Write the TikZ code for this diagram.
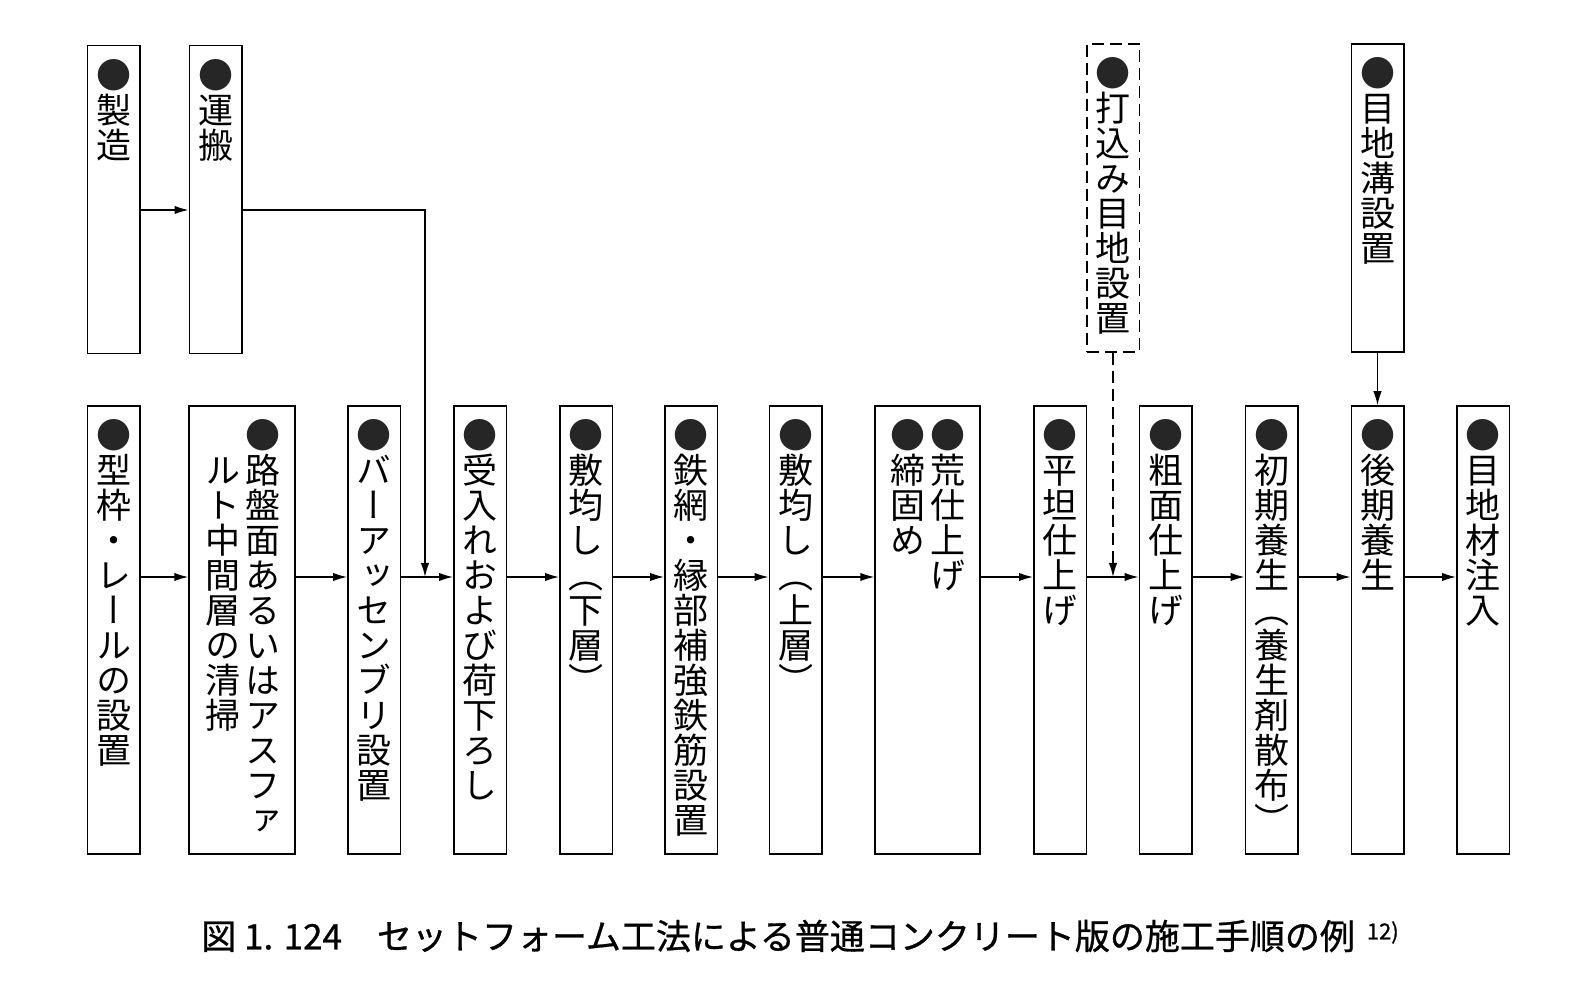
\documentclass[tikz,border=0pt]{standalone}
\usepackage{fontspec}
\usepackage{graphicx}
\usetikzlibrary{arrows.meta,calc}
\newfontfamily\jp[FakeBold=0.8]{Noto Sans CJK JP}
\newfontfamily\jpv[RawFeature=+vert]{Noto Sans CJK JP}
\newcommand\vfont{\jpv\fontsize{17.5}{17.5}\selectfont\lineskiplimit=-100pt\relax}
\newcommand\bul{\textcolor{black!85}{●}}
\newcommand\fr{\rule{0pt}{16pt}}
\begin{document}
\begin{tikzpicture}[x=0.5pt,y=-0.5pt,
  box/.style={draw, line width=0.75pt, minimum width=26.25pt, inner sep=0pt},
  lowbox/.style={box, minimum height=224pt},
  upbox/.style={box, minimum height=154pt},
  col/.style={anchor=north, inner sep=0pt, align=center, font=\vfont},
  arr/.style={line width=0.65pt, -{Latex[length=7pt,width=4.2pt]}},
]
\useasboundingbox[fill=white] (0,0) rectangle (1581,1004);
% upper boxes
\node[upbox] (u1) at (113.5,199.5) {};
\node[upbox] (u2) at (215.5,199.5) {};
\node[upbox, dashed, dash pattern=on 6pt off 3pt] (u3) at (1113,198) {};
\node[upbox] (u4) at (1377.5,198) {};
% lower boxes
\node[lowbox] (f1) at (113.5,630) {};
\node[lowbox, minimum width=53pt] (f2) at (242,630) {};
\node[lowbox] (f3) at (374,630) {};
\node[lowbox] (f4) at (480,630) {};
\node[lowbox] (f5) at (586,630) {};
\node[lowbox] (f6) at (691,630) {};
\node[lowbox] (f7) at (795.5,630) {};
\node[lowbox, minimum width=52.5pt] (f8) at (927.5,630) {};
\node[lowbox] (f9) at (1060,630) {};
\node[lowbox] (f10) at (1165.5,630) {};
\node[lowbox] (f11) at (1271.5,630) {};
\node[lowbox] (f12) at (1377.5,630) {};
\node[lowbox] (f13) at (1483,630) {};
% texts upper
\node[col] (tu1) at ([yshift=-5.5pt]u1.north) {\fr\bul\\製\\造};
\node[col] (tu2) at ([yshift=-5.5pt]u2.north) {\fr\bul\\運\\搬};
\node[col] (tu3) at ([yshift=-5.5pt]u3.north) {\fr\bul\\打\\込\\み\\目\\地\\設\\置};
\node[col] (tu4) at ([yshift=-5.5pt]u4.north) {\fr\bul\\目\\地\\溝\\設\\置};
% texts lower
\node[col] (tf1) at ([yshift=-5.5pt]f1.north) {\fr\bul\\型\\枠\\・\\レ\\ー\\ル\\の\\設\\置};
\node[col] (tf2a) at ([xshift=10.5pt,yshift=-5.5pt]f2.north) {\fr\bul\\路\\盤\\面\\あ\\る\\い\\は\\ア\\ス\\フ\\ァ};
\node[col] (tf2b) at ([xshift=-9.5pt,yshift=-5.5pt]f2.north) {\fr\\ル\\ト\\中\\間\\層\\の\\清\\掃};
\node[col] (tf3) at ([yshift=-5.5pt]f3.north) {\fr\bul\\バ\\ー\\ア\\ッ\\セ\\ン\\ブ\\リ\\設\\置};
\node[col] (tf4) at ([yshift=-5.5pt]f4.north) {\fr\bul\\受\\入\\れ\\お\\よ\\び\\荷\\下\\ろ\\し};
\node[col] (tf5) at ([yshift=-5.5pt]f5.north) {\fr\bul\\敷\\均\\し\\（\\下\\層\\）};
\node[col] (tf6) at ([yshift=-5.5pt]f6.north) {\fr\bul\\鉄\\網\\・\\縁\\部\\補\\強\\鉄\\筋\\設\\置};
\node[col] (tf7) at ([yshift=-5.5pt]f7.north) {\fr\bul\\敷\\均\\し\\（\\上\\層\\）};
\node[col] (tf8a) at ([xshift=10pt,yshift=-5.5pt]f8.north) {\fr\bul\\荒\\仕\\上\\げ};
\node[col] (tf8b) at ([xshift=-10pt,yshift=-5.5pt]f8.north) {\fr\bul\\締\\固\\め};
\node[col] (tf9) at ([yshift=-5.5pt]f9.north) {\fr\bul\\平\\坦\\仕\\上\\げ};
\node[col] (tf10) at ([yshift=-5.5pt]f10.north) {\fr\bul\\粗\\面\\仕\\上\\げ};
\node[col] (tf11) at ([yshift=-5.5pt]f11.north) {\fr\bul\\初\\期\\養\\生\\（\\養\\生\\剤\\散\\布\\）};
\node[col] (tf12) at ([yshift=-5.5pt]f12.north) {\fr\bul\\後\\期\\養\\生};
\node[col] (tf13) at ([yshift=-5.5pt]f13.north) {\fr\bul\\目\\地\\材\\注\\入};
% connectors
\def\ay{26.5pt}
\draw[arr] ([yshift=-5.25pt]u1.east) -- ([yshift=-5.25pt]u2.west);
\coordinate (j1) at (425,577);
\coordinate (j2) at (1113,577);
\draw[arr] ([yshift=-5.25pt]u2.east) -| (j1);
\draw[arr, dashed, dash pattern=on 6pt off 3pt] (u3.south) -- (j2);
\draw[arr] (u4.south) -- (f12.north);
\draw[arr] ([yshift=\ay]f1.east) -- ([yshift=\ay]f2.west);
\draw[arr] ([yshift=\ay]f2.east) -- ([yshift=\ay]f3.west);
\draw[arr] ([yshift=\ay]f3.east) -- ([yshift=\ay]f4.west);
\draw[arr] ([yshift=\ay]f4.east) -- ([yshift=\ay]f5.west);
\draw[arr] ([yshift=\ay]f5.east) -- ([yshift=\ay]f6.west);
\draw[arr] ([yshift=\ay]f6.east) -- ([yshift=\ay]f7.west);
\draw[arr] ([yshift=\ay]f7.east) -- ([yshift=\ay]f8.west);
\draw[arr] ([yshift=\ay]f8.east) -- ([yshift=\ay]f9.west);
\draw[arr] ([yshift=\ay]f9.east) -- ([yshift=\ay]f10.west);
\draw[arr] ([yshift=\ay]f10.east) -- ([yshift=\ay]f11.west);
\draw[arr] ([yshift=\ay]f11.east) -- ([yshift=\ay]f12.west);
\draw[arr] ([yshift=\ay]f12.east) -- ([yshift=\ay]f13.west);
% caption
\node[inner sep=0pt, font=\jp\fontsize{17.5}{17.5}\selectfont] (cap) at (800,936) {図 1. 124　セットフォーム工法による普通コンクリート版の施工手順の例\hspace{6pt}\raisebox{5pt}{\fontsize{11}{11}\selectfont 12)}};
\end{tikzpicture}
\end{document}
